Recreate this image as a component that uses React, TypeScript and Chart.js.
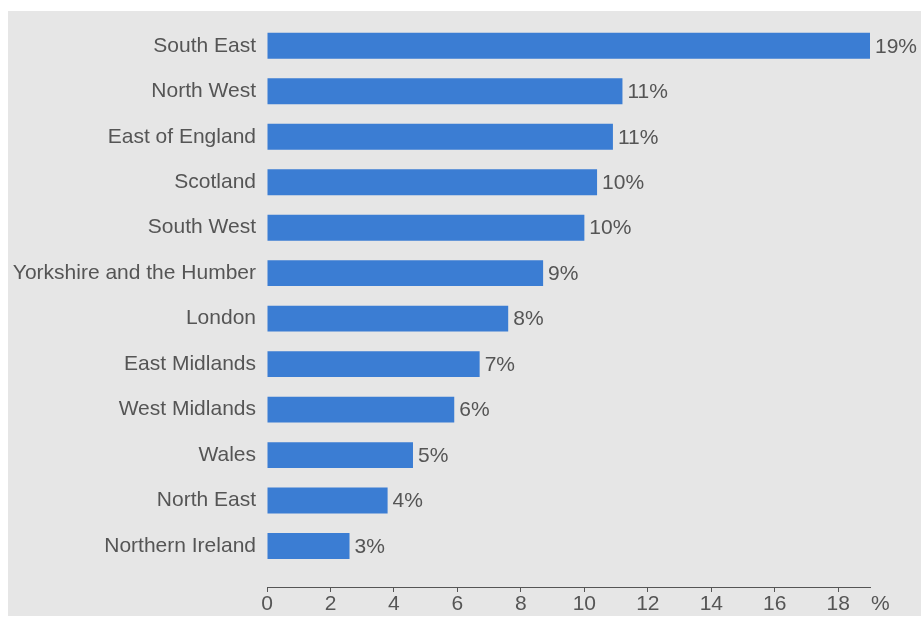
import React, { useEffect, useRef } from "react";
import { Chart, registerables } from "chart.js";

Chart.register(...registerables);

const regions = [
  "South East",
  "North West",
  "East of England",
  "Scotland",
  "South West",
  "Yorkshire and the Humber",
  "London",
  "East Midlands",
  "West Midlands",
  "Wales",
  "North East",
  "Northern Ireland",
];

const shares = [19.0, 11.2, 10.9, 10.4, 10.0, 8.7, 7.6, 6.7, 5.9, 4.6, 3.8, 2.6];

const xTicks = [0, 2, 4, 6, 8, 10, 12, 14, 16, 18];
const xMax = 19;
const unitLabel = "%";

const FONT = "'Liberation Sans', Arial, sans-serif";
const TEXT = "#555555";
const BAR = "#3b7dd3";

export default function App() {
  const ref = useRef<HTMLCanvasElement | null>(null);

  useEffect(() => {
    document.documentElement.style.overflow = "hidden";
    document.body.style.overflow = "hidden";
    const canvas = ref.current;
    if (!canvas) return;

    const valueLabels = {
      id: "valueLabels",
      afterDatasetsDraw(chart: any) {
        const ctx = chart.ctx;
        const meta = chart.getDatasetMeta(0);
        ctx.save();
        ctx.font = `21px ${FONT}`;
        ctx.fillStyle = TEXT;
        ctx.textAlign = "left";
        ctx.textBaseline = "middle";
        meta.data.forEach((el: any, i: number) => {
          ctx.fillText(Math.round(shares[i]) + "%", el.x + 5, el.y + 1);
        });
        ctx.restore();
      },
    };

    const unitPlugin = {
      id: "unitLabel",
      afterDraw(chart: any) {
        const xs = chart.scales.x;
        const ctx = chart.ctx;
        ctx.save();
        ctx.font = `21px ${FONT}`;
        ctx.fillStyle = TEXT;
        ctx.textAlign = "left";
        ctx.textBaseline = "middle";
        ctx.fillText(unitLabel, xs.getPixelForValue(xMax) + 1, xs.top + 5 + 12.5);
        ctx.restore();
      },
    };

    const chart = new Chart(canvas, {
      type: "bar",
      data: {
        datasets: [
          {
            data: shares.map((v, i) => ({ x: v, y: i })),
            backgroundColor: BAR,
            borderWidth: 0,
            barPercentage: 0.57,
            categoryPercentage: 1,
          },
        ],
      },
      options: {
        indexAxis: "y",
        animation: false,
        responsive: false,
        layout: { padding: { top: 12, right: 51, bottom: 0, left: 0 } },
        plugins: {
          legend: { display: false },
          tooltip: { enabled: false },
        },
        scales: {
          x: {
            type: "linear",
            position: "bottom",
            min: 0,
            max: xMax,
            bounds: "data",
            offset: false,
            afterBuildTicks: (scale: any) => {
              scale.ticks = xTicks.map((v) => ({ value: v }));
              scale.min = 0;
              scale.max = xMax;
            },
            afterFit: (scale: any) => {
              scale.height = 29;
              scale.paddingLeft = 0;
              scale.paddingRight = 0;
            },
            ticks: {
              color: TEXT,
              font: { family: FONT, size: 21 },
              padding: 0,
              maxRotation: 0,
              autoSkip: false,
            },
            grid: {
              drawOnChartArea: false,
              drawTicks: true,
              tickLength: 5,
              color: "#555555",
            },
            border: { display: true, color: "#555555", width: 1 },
          },
          y: {
            type: "linear",
            reverse: true,
            min: -0.5,
            max: 11.9,
            bounds: "data",
            offset: false,
            afterBuildTicks: (scale: any) => {
              scale.ticks = regions.map((_, i) => ({ value: i }));
              scale.min = -0.5;
              scale.max = 11.9;
            },
            afterFit: (scale: any) => {
              scale.width = 259;
              scale.paddingTop = 0;
              scale.paddingBottom = 0;
            },
            ticks: {
              color: TEXT,
              font: { family: FONT, size: 21 },
              padding: 11,
              autoSkip: false,
              callback: (v: any) => regions[v as number] ?? "",
            },
            grid: { display: false, drawTicks: false, offset: false },
            border: { display: false },
          },
        },
      },
      plugins: [valueLabels, unitPlugin],
    });

    return () => chart.destroy();
  }, []);

  return (
    <div
      style={{
        position: "absolute",
        left: 8,
        top: 11,
        width: 913,
        height: 605,
        background: "#e6e6e6",
      }}
    >
      <canvas ref={ref} width={913} height={605} style={{ display: "block", width: 913, height: 605 }} />
    </div>
  );
}
